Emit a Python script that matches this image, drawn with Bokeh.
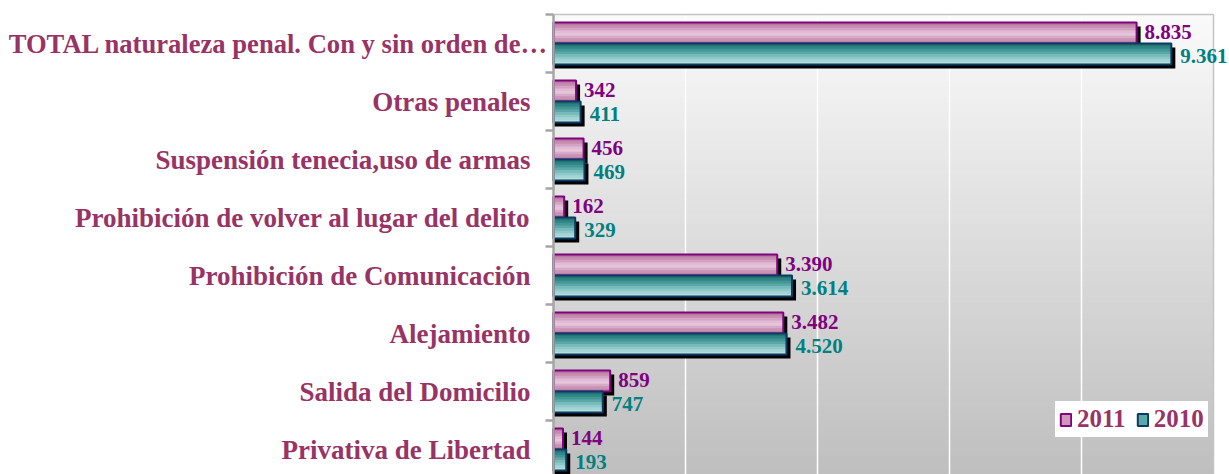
import numpy as np
from bokeh.plotting import figure
from bokeh.models import Range1d, ColumnDataSource, Legend, LegendItem
from bokeh.core.properties import value
from bokeh.embed import file_html
from bokeh.resources import INLINE

# ---------------- data ----------------
categories = [
    "TOTAL naturaleza penal. Con y sin orden de\u2026",
    "Otras penales",
    "Suspensión tenecia,uso de armas",
    "Prohibición de volver al lugar del delito",
    "Prohibición de Comunicación",
    "Alejamiento",
    "Salida del Domicilio",
    "Privativa de Libertad",
]
values_2011 = [8835, 342, 456, 162, 3390, 3482, 859, 144]
values_2010 = [9361, 411, 469, 329, 3614, 3530, 747, 193]   # bar lengths as drawn
labels_2011 = ["8.835", "342", "456", "162", "3.390", "3.482", "859", "144"]
labels_2010 = ["9.361", "411", "469", "329", "3.614", "4.520", "747", "193"]
series_names = ["2011", "2010"]
x_max = 10000
grid_values = [2000, 4000, 6000, 8000]

# ---------------- layout / style ----------------
W, H = 1229, 474
AX_PX, RIGHT_PX, TOP_PX = 553, 1213, 14       # plot-area edges in pixels
px_per_band = 58.0
px_per_unit = (RIGHT_PX - AX_PX) / x_max
units_per_px = 1 / px_per_unit

FONT = value("Liberation Serif")
FONT_NAME = "Liberation Serif"
LABEL_COLOR = "#993366"
C2011_LINE, C2011_TEXT = "#800080", "#800080"
C2010_LINE, C2010_TEXT = "#0b3a63", "#008080"
pink_grad = ["#b97aa0", "#c68cb0", "#d4a2c2", "#e2bcd4", "#e6c4da", "#d8aac8", "#c992b6", "#bd80a8"]
teal_grad = ["#237474", "#2f8484", "#449696", "#5ca8a8", "#76baba", "#8ec8c8", "#a4d4d4", "#b4dddd"]

x_lo = -AX_PX * units_per_px
x_hi = (W - AX_PX) * units_per_px
y_top = -TOP_PX / px_per_band
y_bot = (H - TOP_PX) / px_per_band

p = figure(width=W, height=H,
           x_range=Range1d(x_lo, x_hi), y_range=Range1d(y_bot, y_top),
           output_backend="svg", toolbar_location=None,
           x_axis_location=None, y_axis_location=None,
           min_border=0)
p.grid.visible = False
p.outline_line_color = None
p.background_fill_color = "white"
p.border_fill_color = "white"

# plot-area background gradient (white -> grey)
n_strips = 90
edges = np.linspace(0, y_bot + 0.05, n_strips + 1)
top_rgb = np.array([250, 250, 250])
bot_rgb = np.array([191, 191, 191])
cols = []
for k in range(n_strips):
    t = k / (n_strips - 1)
    c = (top_rgb + (bot_rgb - top_rgb) * t).astype(int)
    cols.append("#%02x%02x%02x" % tuple(c))
p.quad(left=0, right=x_max, top=edges[:-1], bottom=[y_bot + 0.1] * n_strips,
       fill_color=cols, line_color=None)

# gridlines + plot-area border
p.segment(x0=grid_values, x1=grid_values, y0=0, y1=y_bot + 0.1,
          line_color="white", line_width=1.5)
p.segment(x0=[0, x_max], x1=[x_max, x_max], y0=[0, 0], y1=[0, y_bot + 0.1],
          line_color="#c4c4c4", line_width=1.5)

# bars
idx = np.arange(len(categories))
bar_h = 21.0 / px_per_band
off = bar_h / 2
y2011 = idx + 0.5 - off
y2010 = idx + 0.5 + off
sh_x = 4 * units_per_px
sh_y = 4 / px_per_band

for yc, vals in ((y2011, values_2011), (y2010, values_2010)):
    p.hbar(y=yc + sh_y, left=0, right=np.array(vals) + sh_x, height=bar_h,
           fill_color="black", line_color=None)

def grad_bar(yc, vals, grad, line_color):
    n = len(grad)
    sl = bar_h / n
    bottom = yc + bar_h / 2
    for k, col in enumerate(grad):
        top = yc - bar_h / 2 + k * sl
        p.hbar(y=(top + bottom) / 2, left=0, right=vals, height=bottom - top,
               fill_color=col, line_color=None)
    p.hbar(y=yc, left=0, right=vals, height=bar_h, fill_alpha=0,
           line_color=line_color, line_width=2)

grad_bar(y2011, values_2011, pink_grad, C2011_LINE)
grad_bar(y2010, values_2010, teal_grad, C2010_LINE)

# legend proxies (zero-width, hidden under the axis line)
r11 = p.hbar(y=y2011, left=0, right=0, height=bar_h, fill_color="#cf98ba",
             line_color=C2011_LINE, line_width=2)
r10 = p.hbar(y=y2010, left=0, right=0, height=bar_h, fill_color="#5aa8a8",
             line_color=C2010_LINE, line_width=2)

# axis line and boundary ticks
bounds = np.arange(len(categories) + 1)
p.segment(x0=0, x1=0, y0=0, y1=y_bot + 0.1, line_color="#a6a6a6", line_width=2.5)
p.segment(x0=-8 * units_per_px, x1=0, y0=bounds, y1=bounds,
          line_color="#a6a6a6", line_width=2.5)

# value labels
src11 = ColumnDataSource(dict(x=values_2011, y=y2011, t=labels_2011))
src10 = ColumnDataSource(dict(x=values_2010, y=y2010, t=labels_2010))
p.text(x="x", y="y", text="t", source=src11, x_offset=8, y_offset=-1,
       text_baseline="middle", text_align="left", text_font=FONT,
       text_font_style="bold", text_font_size="21px", text_color=C2011_TEXT)
p.text(x="x", y="y", text="t", source=src10, x_offset=9, y_offset=2,
       text_baseline="middle", text_align="left", text_font=FONT,
       text_font_style="bold", text_font_size="21px", text_color=C2010_TEXT)

# category labels
cat_src = ColumnDataSource(dict(x=[0] * (len(categories) - 1), y=idx[1:] + 0.5,
                                t=categories[1:]))
p.text(x="x", y="y", text="t", source=cat_src, x_offset=-23,
       text_baseline="middle", text_align="right", text_font=FONT,
       text_font_style="bold", text_font_size="27px", text_color=LABEL_COLOR)
p.text(x=[0], y=[0.5], text=[categories[0]], x_offset=-5,
       text_baseline="middle", text_align="right", text_font=FONT,
       text_font_style="bold", text_font_size="26.6px", text_color=LABEL_COLOR)

# legend
legend = Legend(items=[LegendItem(label=series_names[0], renderers=[r11]),
                       LegendItem(label=series_names[1], renderers=[r10])],
                orientation="horizontal", location=(1055, H - 437),
                background_fill_color="white", background_fill_alpha=1,
                border_line_alpha=0, label_text_font=FONT_NAME, label_text_font_style="bold",
                label_text_font_size="25px", label_text_color=LABEL_COLOR,
                glyph_width=13, glyph_height=15, spacing=10, padding=4, margin=0,
                label_standoff=5, label_height=24)
p.add_layout(legend)

open("out.html", "w").write(file_html(p, INLINE))
